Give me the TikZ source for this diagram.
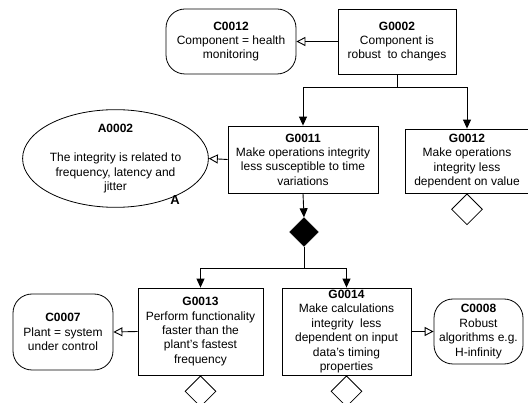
\documentclass[tikz,border=0pt]{standalone}
\usepackage{fontspec}
\setmainfont{Liberation Sans}
\usetikzlibrary{shapes.geometric,arrows.meta}
\begin{document}
\begin{tikzpicture}[x=1pt,y=-1pt,
  every node/.style={font=\fontsize{12}{14.4}\selectfont, align=center, inner sep=0pt},
  goal/.style={draw, line width=0.8pt, rectangle},
  ctx/.style={draw, line width=0.8pt, rectangle, rounded corners=19pt},
  assum/.style={draw, line width=0.8pt, ellipse},
  undev/.style={draw, line width=0.8pt, diamond, minimum width=31pt, minimum height=31pt, anchor=north},
  strat/.style={draw, fill=black, diamond, minimum width=29pt, minimum height=29pt},
  sup/.style={draw, line width=0.9pt, -{Triangle[length=9pt,width=8pt]}},
  inctx/.style={draw, line width=0.9pt, -{Triangle[open,length=9pt,width=9pt]}},
]
\useasboundingbox (0,0) rectangle (528,403);

\node[ctx, minimum width=130pt, minimum height=65pt] (C0012) at (231,41.5)
  {\textbf{C0012}\\Component = health\\monitoring};
\node[goal, minimum width=118pt, minimum height=65pt] (G0002) at (397,41.5)
  {\textbf{G0002}\\Component is\\robust\ \ to changes};
\node[goal, minimum width=150pt, minimum height=67pt] (G0011) at (303,159.5)
  {\textbf{G0011}\\Make operations integrity\\less susceptible to time\\variations};
\node[goal, minimum width=123pt, minimum height=64pt] (G0012) at (467,161)
  {\textbf{G0012}\\Make operations\\integrity less\\dependent on value};
\node[assum, minimum width=145pt, minimum height=97pt] (A0002) at (115.5,158.5)
  {\textbf{A0002}\\[15pt]The integrity is related to\\frequency, latency and\\jitter};
\node[font=\fontsize{13}{14}\selectfont\bfseries] (Alab) at (175,200) {A};
\node[strat] (S1) at (304,232) {};
\node[goal, minimum width=125pt, minimum height=87pt] (G0013) at (200.5,331.5)
  {\textbf{G0013}\\Perform functionality\\faster than the\\plant's fastest\\frequency};
\node[goal, minimum width=129pt, minimum height=87pt] (G0014) at (346.5,331.5)
  {\textbf{G0014}\\Make calculations\\integrity\ \ less\\dependent on input\\data's timing\\properties};
\node[ctx, minimum width=100pt, minimum height=76pt] (C0007) at (63,332)
  {\textbf{C0007}\\Plant = system\\under control};
\node[ctx, minimum width=89pt, minimum height=65pt] (C0008) at (478.5,331.5)
  {\textbf{C0008}\\Robust\\algorithms e.g.\\H-infinity};
\node[undev] (U12) at (G0012.south) {};
\node[undev] (U13) at (G0013.south) {};
\node[undev] (U14) at (G0014.south) {};

\draw[inctx] (G0002.west) -- (C0012.east);
\draw[sup] (G0002.south) -- ++(0,13) -| (G0011.north);
\draw[sup] (G0002.south) -- ++(0,13) -| (G0012.north);
\draw[inctx] (G0011.west) -- (A0002.east);
\draw[sup] (G0011.south) -- (S1.north);
\draw[sup] (S1.south) -- ++(0,22) -| (G0013.north);
\draw[sup] (S1.south) -- ++(0,22) -| (G0014.north);
\draw[inctx] (G0013.west) -- (C0007.east);
\draw[inctx] (G0014.east) -- (C0008.west);
\end{tikzpicture}
\end{document}
